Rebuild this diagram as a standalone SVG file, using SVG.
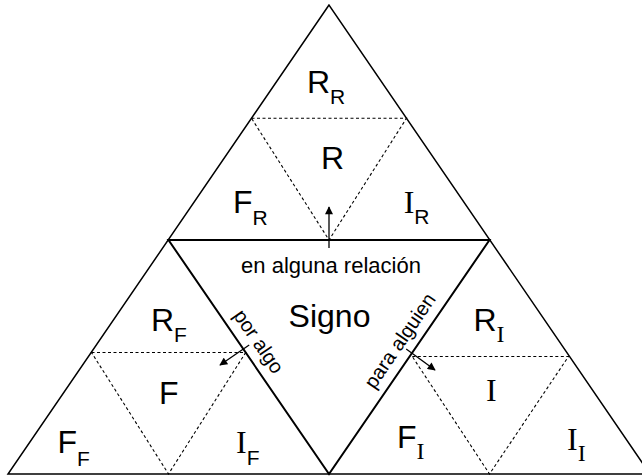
<svg xmlns="http://www.w3.org/2000/svg" width="642" height="476" viewBox="0 0 642 476">
<style>
.outer{fill:none;stroke:#000;stroke-width:1.5}
.sig{fill:none;stroke:#000;stroke-width:2}
.dash{fill:none;stroke:#000;stroke-width:1.1;stroke-dasharray:3,2.5}
.arr{fill:none;stroke:#000;stroke-width:1.3;marker-end:url(#ah)}
.a{font-family:"Liberation Sans",Arial,sans-serif;font-size:32px;fill:#000}
.s{font-family:"Liberation Serif","Times New Roman",serif;font-size:32px;fill:#000}
.sa{font-family:"Liberation Sans",Arial,sans-serif;font-size:21px}
.ss{font-family:"Liberation Serif","Times New Roman",serif;font-size:24px}
.lbl{font-family:"Liberation Sans",Arial,sans-serif;font-size:22px;fill:#000}
.rl{font-family:"Liberation Sans",Arial,sans-serif;font-size:20px;fill:#000}
</style>
<defs>
<marker id="ah" viewBox="0 0 10 10" refX="9" refY="5" markerWidth="9" markerHeight="8" markerUnits="userSpaceOnUse" orient="auto">
<path d="M0,0 L10,5 L0,10 z" fill="#000"/>
</marker>
</defs>
<rect width="642" height="476" fill="#fff"/>
<g id="connectors">
<polygon class="outer" points="329,5 8,474 650,474"/>
<polygon class="dash" points="251.5,118.3 406.5,118.3 329,240"/>
<polygon class="dash" points="91.5,352.5 245.7,352.5 168.5,474"/>
<polygon class="dash" points="412.3,356.5 568.5,356.5 489.5,474"/>
<polygon class="sig" points="168.5,240 489.5,240 329,474"/>
<line class="arr" x1="329" y1="248" x2="329" y2="207"/>
<line class="arr" x1="249.2" y1="345" x2="220" y2="365"/>
<line class="arr" x1="406.2" y1="349" x2="435" y2="370"/>
</g>
<g id="node-RR"><text class="a" x="307" y="92.7">R<tspan class="sa" dy="11">R</tspan></text></g>
<g id="node-R"><text class="a" x="321" y="169">R</text></g>
<g id="node-FR"><text class="a" x="233" y="213">F<tspan class="sa" dy="12">R</tspan></text></g>
<g id="node-IR"><text class="s" x="403.7" y="213">I<tspan class="sa" dy="11">R</tspan></text></g>
<g id="node-signo">
<text class="a" x="329.5" y="326.7" text-anchor="middle">Signo</text>
<text class="lbl" x="331" y="273" text-anchor="middle">en alguna relación</text>
<text class="rl" transform="translate(232.7,315.5) rotate(55.6)">por algo</text>
<text class="rl" transform="translate(374.4,389.9) rotate(-55.6)">para alguien</text>
</g>
<g id="node-RF"><text class="a" x="151" y="331">R<tspan class="sa" dy="11">F</tspan></text></g>
<g id="node-F"><text class="a" x="159" y="404">F</text></g>
<g id="node-FF"><text class="a" x="57.5" y="453.3">F<tspan class="sa" dy="13">F</tspan></text></g>
<g id="node-IF"><text class="s" x="236" y="453.3">I<tspan class="sa" dy="11.7">F</tspan></text></g>
<g id="node-RI"><text class="a" x="473.5" y="331">R<tspan class="ss" dy="11">I</tspan></text></g>
<g id="node-I"><text class="s" x="486" y="401">I</text></g>
<g id="node-FI"><text class="a" x="397" y="448.3">F<tspan class="ss" dy="11">I</tspan></text></g>
<g id="node-II"><text class="s" x="567" y="450">I<tspan class="ss" dy="11">I</tspan></text></g>
</svg>
